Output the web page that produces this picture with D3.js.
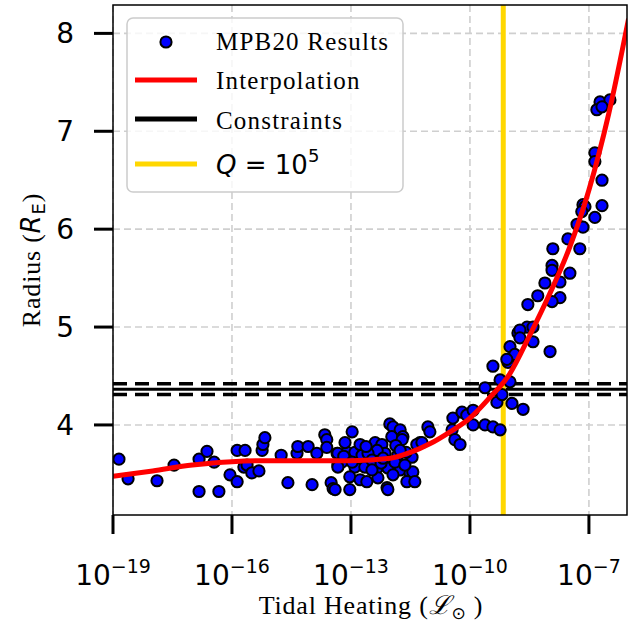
<!DOCTYPE html>
<html>
<head>
<meta charset="utf-8">
<script src="https://cdn.jsdelivr.net/npm/d3@7"></script>
<style>
  body { margin: 0; background: #fff; }
  svg { display: block; }
</style>
</head>
<body>
<svg width="634" height="624"></svg>
<script>
// tidal heating given as log10(L / Lsun), radius in Earth radii
var heatingExp = [
  -18.85, -18.62, -17.89, -17.46, -16.83, -16.83, -16.63, -16.45, -16.33, -16.05, -15.87, -15.87, -15.67, -15.70,
  -15.62, -15.50, -15.32, -15.24, -15.22, -15.17, -14.76, -14.59, -14.36, -14.34, -14.08, -13.98, -13.86, -13.66,
  -13.61, -13.61, -13.50, -13.45, -13.35, -13.33, -12.97, -12.02, -11.94, -11.76, -11.97, -11.69, -11.71, -12.39,
  -12.22, -13.10, -13.33, -13.23, -13.33, -12.90, -12.72, -12.14, -12.34, -12.57, -11.46, -11.82, -11.26, -11.34,
  -12.90, -12.65, -12.34, -12.07, -11.76, -11.51, -11.44, -13.03, -12.77, -12.60, -12.32, -11.94, -11.59, -11.39,
  -13.03, -12.09, -12.07, -13.40, -12.47, -12.24, -13.15, -11.87, -12.77, -11.61,
  -13.18, -12.97, -12.47, -12.19, -11.89, -11.64, -12.62, -11.76,
  -11.06, -11.01, -11.21, -10.45, -10.43, -10.20, -10.08, -9.92, -9.92, -9.62, -9.42, -9.24, -10.38, -10.25,
  -9.62, -9.42, -9.32, -9.19, -9.24, -8.99, -8.94, -9.04, -8.99, -8.87, -8.79, -8.66,
  -7.15, -6.67, -6.85, -7.30, -7.15, -7.53, -7.91, -7.23, -7.93, -7.93, -7.48, -8.11, -7.73, -8.29, -7.73, -7.93,
  -8.54, -8.56, -8.74, -8.41, -8.74, -8.41, -7.98, -9.07,
  -6.72, -6.47, -6.80, -6.67, -6.85, -6.85, -6.67, -7.10, -7.18
];
var radius = [
  3.65, 3.45, 3.43, 3.59, 3.32, 3.65, 3.73, 3.62, 3.32, 3.49, 3.42, 3.74, 3.74, 3.57,
  3.59, 3.51, 3.53, 3.74, 3.80, 3.87, 3.69, 3.41, 3.71, 3.78, 3.78, 3.39, 3.71, 3.90,
  3.85, 3.77, 3.41, 3.35, 3.71, 3.59, 3.93, 4.01, 3.98, 3.95, 3.88, 3.88, 3.85, 3.82,
  3.80, 3.72, 3.71, 3.62, 3.57, 3.72, 3.69, 3.71, 3.74, 3.71, 3.67, 3.69, 3.82, 3.80,
  3.57, 3.57, 3.56, 3.56, 3.54, 3.51, 3.52, 3.47, 3.44, 3.42, 3.46, 3.49, 3.42, 3.42,
  3.34, 3.36, 3.34, 3.34, 3.64, 3.61, 3.82, 3.79, 3.80, 3.72,
  3.68, 3.62, 3.54, 3.66, 3.62, 3.59, 3.78, 3.74,
  3.98, 3.93, 3.82, 3.95, 4.07, 4.13, 4.10, 4.15, 4.00, 4.00, 3.98, 3.95, 3.85, 3.80,
  4.38, 4.60, 4.23, 4.31, 4.46, 4.44, 4.22, 4.64, 4.80, 4.72, 4.94, 4.16,
  6.25, 6.24, 6.12, 6.05, 6.02, 5.90, 5.80, 5.80, 5.63, 5.58, 5.55, 5.45, 5.46, 5.32, 5.30, 5.26,
  5.23, 5.00, 4.97, 5.00, 4.89, 4.85, 4.75, 4.67,
  7.30, 7.32, 7.22, 7.25, 6.78, 6.69, 6.50, 6.23, 6.18
];

// interpolation curve
var curveExp    = [-19.0, -18.0, -17.0, -16.0, -15.0, -14.0, -13.0, -12.0, -11.5, -11.0, -10.5, -10.0, -9.5, -9.0, -8.5, -8.0, -7.5, -7.0, -6.5, -6.0];
var curveRadius = [3.475, 3.53, 3.59, 3.625, 3.635, 3.635, 3.635, 3.66, 3.72, 3.81, 3.93, 4.07, 4.28, 4.52, 4.91, 5.33, 5.80, 6.40, 7.18, 8.15];

// radius constraint (centre, +-)
var constraint = [4.365, 0.055];
var qLineExp = -9.16;   // Q = 10^5

var xTickExps = [-19, -16, -13, -10, -7];
var yTicks = [4, 5, 6, 7, 8];

var svg = d3.select("svg");
var pLeft = 113, pRight = 627, pTop = 5, pBottom = 515;

var x = d3.scaleLog().domain([1e-19, Math.pow(10, -6.04)]).range([pLeft, pRight]);
var y = d3.scaleLinear().domain([3.08, 8.29]).range([pBottom, pTop]);

svg.append("defs").append("clipPath").attr("id", "clip")
   .append("rect").attr("x", pLeft).attr("y", pTop).attr("width", pRight - pLeft).attr("height", pBottom - pTop);

// grid
var grid = svg.append("g").attr("stroke", "#cfcfcf").attr("stroke-width", 1.6).attr("stroke-dasharray", "7,4");
grid.selectAll(".gx").data(xTickExps).enter().append("line")
    .attr("x1", function(d) { return x(Math.pow(10, d)); })
    .attr("x2", function(d) { return x(Math.pow(10, d)); })
    .attr("y1", pTop).attr("y2", pBottom);
grid.selectAll(".gy").data(yTicks).enter().append("line")
    .attr("y1", function(d) { return y(d); })
    .attr("y2", function(d) { return y(d); })
    .attr("x1", pLeft).attr("x2", pRight);

var plot = svg.append("g").attr("clip-path", "url(#clip)");

// constraint lines
plot.append("line").attr("x1", pLeft).attr("x2", pRight)
    .attr("y1", y(constraint[0])).attr("y2", y(constraint[0]))
    .attr("stroke", "#000").attr("stroke-width", 3);
[constraint[0] - constraint[1], constraint[0] + constraint[1]].forEach(function(v) {
  plot.append("line").attr("x1", pLeft).attr("x2", pRight)
      .attr("y1", y(v)).attr("y2", y(v))
      .attr("stroke", "#000").attr("stroke-width", 3.5).attr("stroke-dasharray", "14,8");
});

// Q line
plot.append("line")
    .attr("x1", x(Math.pow(10, qLineExp))).attr("x2", x(Math.pow(10, qLineExp)))
    .attr("y1", pTop).attr("y2", pBottom)
    .attr("stroke", "#ffd700").attr("stroke-width", 5);

// MPB20 points
plot.selectAll(".pt").data(heatingExp).enter().append("circle")
    .attr("cx", function(d) { return x(Math.pow(10, d)); })
    .attr("cy", function(d, i) { return y(radius[i]); })
    .attr("r", 5.6)
    .attr("fill", "#0000ff").attr("stroke", "#000").attr("stroke-width", 2);

// interpolation
var line = d3.line()
    .x(function(d) { return x(Math.pow(10, d)); })
    .y(function(d, i) { return y(curveRadius[i]); })
    .curve(d3.curveMonotoneX);
plot.append("path").attr("d", line(curveExp))
    .attr("fill", "none").attr("stroke", "#ff0000").attr("stroke-width", 5);

// frame
svg.append("rect").attr("x", pLeft).attr("y", pTop).attr("width", pRight - pLeft).attr("height", pBottom - pTop)
   .attr("fill", "none").attr("stroke", "#000").attr("stroke-width", 1.5);

// x ticks
var xt = svg.append("g");
xTickExps.forEach(function(e) {
  var px = x(Math.pow(10, e));
  xt.append("line").attr("x1", px).attr("x2", px).attr("y1", pBottom).attr("y2", pBottom + 19)
    .attr("stroke", "#000").attr("stroke-width", 3);
  var t = xt.append("text").attr("x", px).attr("y", 585).attr("text-anchor", "middle")
    .attr("font-family", "DejaVu Sans").attr("font-size", 28);
  t.append("tspan").text("10");
  t.append("tspan").attr("dy", -12).attr("font-size", 19).text("\u2212" + Math.abs(e));
});

// y ticks
var yt = svg.append("g");
yTicks.forEach(function(v) {
  yt.append("line").attr("x1", pLeft - 19).attr("x2", pLeft).attr("y1", y(v)).attr("y2", y(v))
    .attr("stroke", "#000").attr("stroke-width", 3);
  yt.append("text").attr("x", 74).attr("y", y(v) + 10).attr("text-anchor", "end")
    .attr("font-family", "DejaVu Sans").attr("font-size", 28).text(v);
});

// axis labels
var xl = svg.append("text").attr("x", 371).attr("y", 614).attr("text-anchor", "middle")
   .attr("font-family", "Liberation Serif").attr("font-size", 26).attr("letter-spacing", 0.8);
xl.append("tspan").text("Tidal Heating (");
xl.append("tspan").attr("font-family", "DejaVu Serif").attr("font-style", "italic").text("\u2112");
xl.append("tspan").attr("font-family", "DejaVu Sans").attr("font-size", 17).attr("dy", 5).text("\u2299");
xl.append("tspan").attr("dy", -5).text(" )");

var yl = svg.append("text").attr("transform", "translate(40,260) rotate(-90)").attr("text-anchor", "middle")
   .attr("font-family", "Liberation Serif").attr("font-size", 26).attr("letter-spacing", 0.8);
yl.append("tspan").text("Radius (");
yl.append("tspan").attr("font-family", "DejaVu Sans").attr("font-style", "italic").text("R");
yl.append("tspan").attr("font-family", "DejaVu Sans").attr("font-size", 18).attr("dy", 5).text("E");
yl.append("tspan").attr("dy", -5).text(")");

// legend
var lg = svg.append("g");
lg.append("rect").attr("x", 127).attr("y", 18).attr("width", 276).attr("height", 174).attr("rx", 6)
  .attr("fill", "#fff").attr("fill-opacity", 0.8).attr("stroke", "#cccccc").attr("stroke-width", 1.5);
lg.append("circle").attr("cx", 166).attr("cy", 42).attr("r", 5.6)
  .attr("fill", "#0000ff").attr("stroke", "#000").attr("stroke-width", 2);
var legendLines = [["#ff0000", 80], ["#000000", 119], ["#ffd700", 164]];
legendLines.forEach(function(l) {
  lg.append("line").attr("x1", 135).attr("x2", 197).attr("y1", l[1]).attr("y2", l[1])
    .attr("stroke", l[0]).attr("stroke-width", 5);
});
var legendText = ["MPB20 Results", "Interpolation", "Constraints"];
var legendY = [50, 89, 129];
legendText.forEach(function(s, i) {
  lg.append("text").attr("x", 216).attr("y", legendY[i]).attr("font-family", "Liberation Serif")
    .attr("font-size", 25).attr("letter-spacing", 1.2).text(s);
});
var q = lg.append("text").attr("x", 216).attr("y", 174).attr("font-family", "DejaVu Sans").attr("font-size", 26);
q.append("tspan").attr("font-style", "italic").text("Q");
q.append("tspan").text(" = 10");
q.append("tspan").attr("dy", -12).attr("font-size", 18).text("5");
</script>
</body>
</html>
